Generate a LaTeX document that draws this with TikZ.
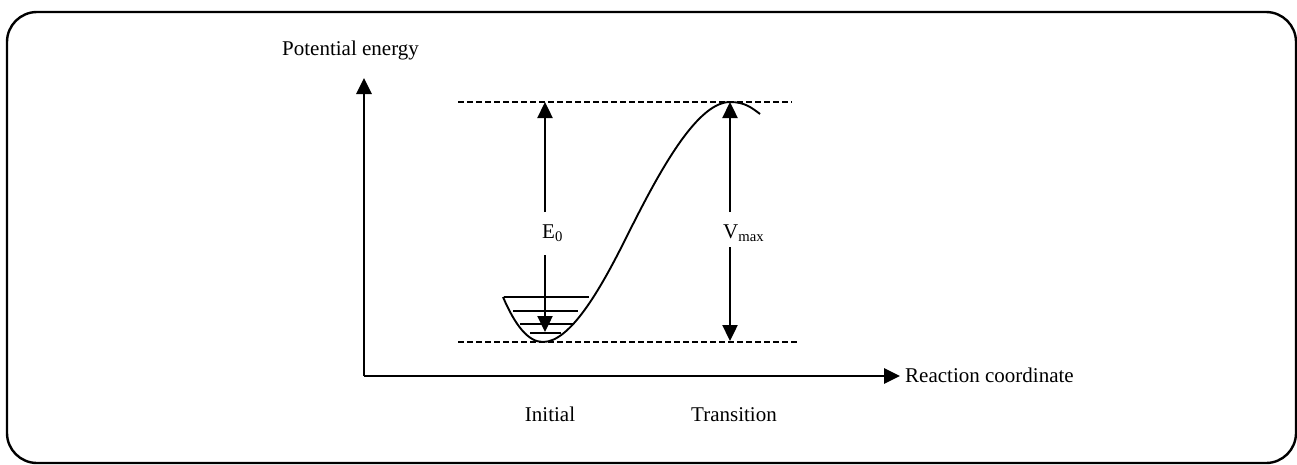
\documentclass[tikz,border=0pt]{standalone}
\usepackage{fontspec}
\setmainfont{Liberation Serif}
\usetikzlibrary{arrows.meta}
\begin{document}
\begin{tikzpicture}[x=1pt,y=-1pt,
  lbl/.style={font=\fontsize{21}{24}\selectfont, inner sep=0pt},
  arr/.style={line width=2.4pt, -{Triangle[length=16pt,width=15pt]}},
  axis/.style={line width=2.7pt, -{Triangle[length=16pt,width=15pt]}},
  refline/.style={line width=1.7pt, dash pattern=on 5.5pt off 3.5pt},
  level/.style={line width=2.2pt},
  curve/.style={line width=1.9pt}]
\useasboundingbox (0,0) rectangle (1297,464);
\draw[line width=2.4pt, rounded corners=30pt] (7,12) rectangle (1296,463);
% axes
\coordinate (O) at (364,376);
\coordinate (ytip) at (364,78);
\coordinate (xtip) at (900,376);
\draw[axis] (O) -- (ytip);
\draw[axis] (O) -- (xtip);
% labels
\node[lbl, anchor=base west] (pe) at (282,55) {Potential energy};
\node[lbl, anchor=base west] (rc) at (905,382) {Reaction coordinate};
\node[lbl, anchor=base] (init) at (550,421) {Initial};
\node[lbl, anchor=base] (trans) at (734,421) {Transition};
% dashed reference lines
\coordinate (tl) at (458,102);
\coordinate (tr) at (792,102);
\coordinate (bl) at (458,342);
\coordinate (br) at (797,342);
\draw[refline] (tl) -- (tr);
\draw[refline] (bl) -- (br);
% potential curve
\draw[curve] (503,297) .. controls (515,325) and (528,342) .. (543,342)
  .. controls (570,342) and (600,290) .. (625,240)
  .. controls (655,180) and (695,102) .. (730,102)
  .. controls (745,102) and (752,108) .. (760,114);
% vibrational levels
\draw[level] (504,297) -- (589,297);
\draw[level] (513,311) -- (578,311);
\draw[level] (520,324) -- (573,324);
\draw[level] (530,333) -- (561,333);
% E0
\node[lbl, anchor=base west] (E0) at (542,238) {E\textsubscript{0}};
\coordinate (e0top) at (545,102);
\coordinate (e0a) at (545,212);
\coordinate (e0b) at (545,255);
\coordinate (e0bot) at (545,332);
\draw[arr] (e0a) -- (e0top);
\draw[arr] (e0b) -- (e0bot);
% Vmax
\node[lbl, anchor=base west] (Vm) at (723,238) {V\textsubscript{max}};
\coordinate (vtop) at (730,102);
\coordinate (va) at (730,212);
\coordinate (vb) at (730,247);
\coordinate (vbot) at (730,341);
\draw[arr] (va) -- (vtop);
\draw[arr] (vb) -- (vbot);
\end{tikzpicture}
\end{document}
